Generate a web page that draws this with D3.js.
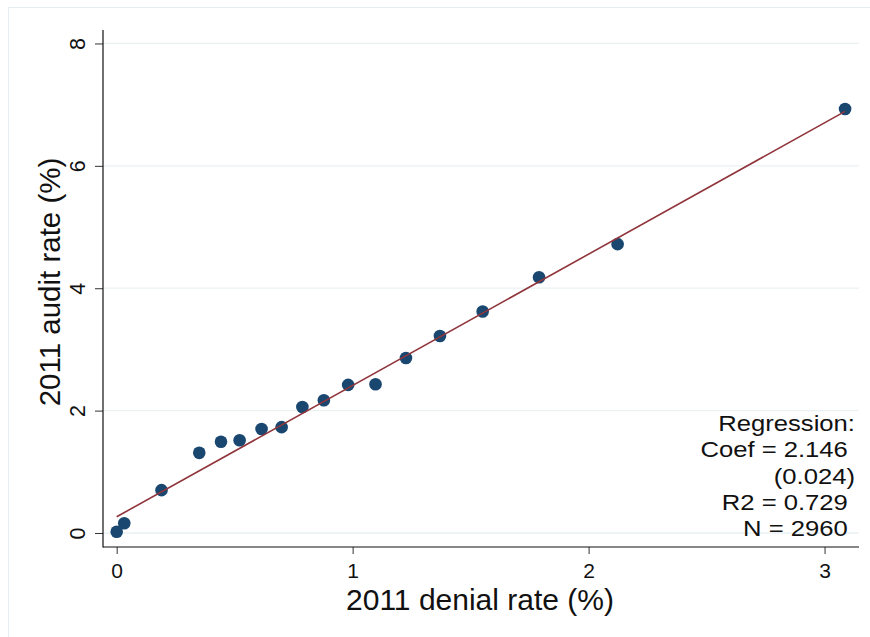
<!DOCTYPE html>
<html>
<head>
<meta charset="utf-8">
<script src="https://cdn.jsdelivr.net/npm/d3@7"></script>
<style>
  html, body { margin: 0; padding: 0; background: #fff; }
  svg { display: block; font-family: "Liberation Sans", Arial, Helvetica, sans-serif; }
</style>
</head>
<body>
<svg id="chart" width="870" height="637"></svg>
<script>
// Binned means: 2011 denial rate (%) vs 2011 audit rate (%)
const denialRate = [0.000, 0.032, 0.190, 0.350, 0.442, 0.521, 0.614, 0.699, 0.787, 0.878, 0.981, 1.097, 1.226, 1.370, 1.551, 1.790, 2.123, 3.087];
const auditRate  = [0.02, 0.16, 0.70, 1.31, 1.49, 1.515, 1.70, 1.73, 2.06, 2.17, 2.42, 2.43, 2.86, 3.22, 3.62, 4.18, 4.72, 6.93];

// Linear fit
const fitCoef = 2.146;
const fitIntercept = 0.265;

const xTicks = [0, 1, 2, 3];
const yTicks = [0, 2, 4, 6, 8];

const regressionLines = ["Regression:", "Coef = 2.146 ", "(0.024)", "R2 = 0.729 ", "N = 2960 "];

const xTitle = "2011 denial rate (%)";
const yTitle = "2011 audit rate (%)";

const svg = d3.select("#chart");

const plot = { left: 103, right: 859, top: 30, bottom: 547 };

const x = d3.scaleLinear().domain([-0.058, 3.146]).range([plot.left, plot.right]);
const y = d3.scaleLinear().domain([-0.229, 8.22]).range([plot.bottom, plot.top]);

// Outer graph region frame
svg.append("rect")
  .attr("x", 8.5).attr("y", 7.5)
  .attr("width", 880).attr("height", 650)
  .attr("fill", "none")
  .attr("stroke", "#e6eef1")
  .attr("stroke-width", 1.2);

// Horizontal gridlines
svg.append("g")
  .selectAll("line")
  .data(yTicks)
  .join("line")
  .attr("x1", plot.left).attr("x2", plot.right)
  .attr("y1", d => y(d)).attr("y2", d => y(d))
  .attr("stroke", "#eaf1f3")
  .attr("stroke-width", 1.3);

// Y axis
const yAxis = d3.axisLeft(y).tickValues(yTicks).tickSize(8).tickPadding(4).tickFormat(d3.format("d"));
const gy = svg.append("g").attr("transform", `translate(${plot.left},0)`).call(yAxis);
gy.select(".domain").remove();
gy.selectAll(".tick line").attr("stroke", "#333").attr("stroke-width", 1);
gy.selectAll(".tick text")
  .attr("font-size", 21.5)
  .attr("fill", "#111")
  .attr("text-anchor", "middle")
  .attr("dy", null)
  .attr("x", null)
  .attr("transform", "translate(-18,0) rotate(-90)")
  .attr("y", 0);

// X axis
const xAxis = d3.axisBottom(x).tickValues(xTicks).tickSize(7).tickPadding(4).tickFormat(d3.format("d"));
const gx = svg.append("g").attr("transform", `translate(0,${plot.bottom})`).call(xAxis);
gx.select(".domain").remove();
gx.selectAll(".tick line").attr("stroke", "#333").attr("stroke-width", 1);
gx.selectAll(".tick text").attr("font-size", 21).attr("fill", "#111").attr("dy", null).attr("y", 31);

// Axis lines
svg.append("line")
  .attr("x1", plot.left).attr("x2", plot.left)
  .attr("y1", plot.top).attr("y2", plot.bottom + 0.5)
  .attr("stroke", "#111").attr("stroke-width", 1.2);
svg.append("line")
  .attr("x1", plot.left).attr("x2", plot.right)
  .attr("y1", plot.bottom).attr("y2", plot.bottom)
  .attr("stroke", "#111").attr("stroke-width", 1.2);

// Scatter points
const points = denialRate.map((d, i) => ({ x: d, y: auditRate[i] }));
svg.append("g")
  .selectAll("circle")
  .data(points)
  .join("circle")
  .attr("cx", d => x(d.x))
  .attr("cy", d => y(d.y))
  .attr("r", 6.3)
  .attr("fill", "#1a476f");

// Fitted line over the range of x
const xExt = d3.extent(denialRate);
svg.append("line")
  .attr("x1", x(xExt[0])).attr("y1", y(fitIntercept + fitCoef * xExt[0]))
  .attr("x2", x(xExt[1])).attr("y2", y(fitIntercept + fitCoef * xExt[1]))
  .attr("stroke", "#90353b")
  .attr("stroke-width", 1.6);

// Regression annotation, right-aligned block
svg.append("g")
  .attr("transform", "translate(855,0) scale(1.14,1)")
  .selectAll("text")
  .data(regressionLines)
  .join("text")
  .attr("x", 0)
  .attr("y", (d, i) => 431 + i * 26.3)
  .attr("text-anchor", "end")
  .attr("font-size", 22.5)
  .attr("fill", "#111")
  .style("white-space", "pre")
  .text(d => d);

// Axis titles
svg.append("text")
  .attr("x", 480)
  .attr("y", 610)
  .attr("text-anchor", "middle")
  .attr("font-size", 30)
  .attr("fill", "#111")
  .text(xTitle);

svg.append("text")
  .attr("transform", "translate(60,282) rotate(-90)")
  .attr("text-anchor", "middle")
  .attr("font-size", 29.5)
  .attr("fill", "#111")
  .text(yTitle);
</script>
</body>
</html>
